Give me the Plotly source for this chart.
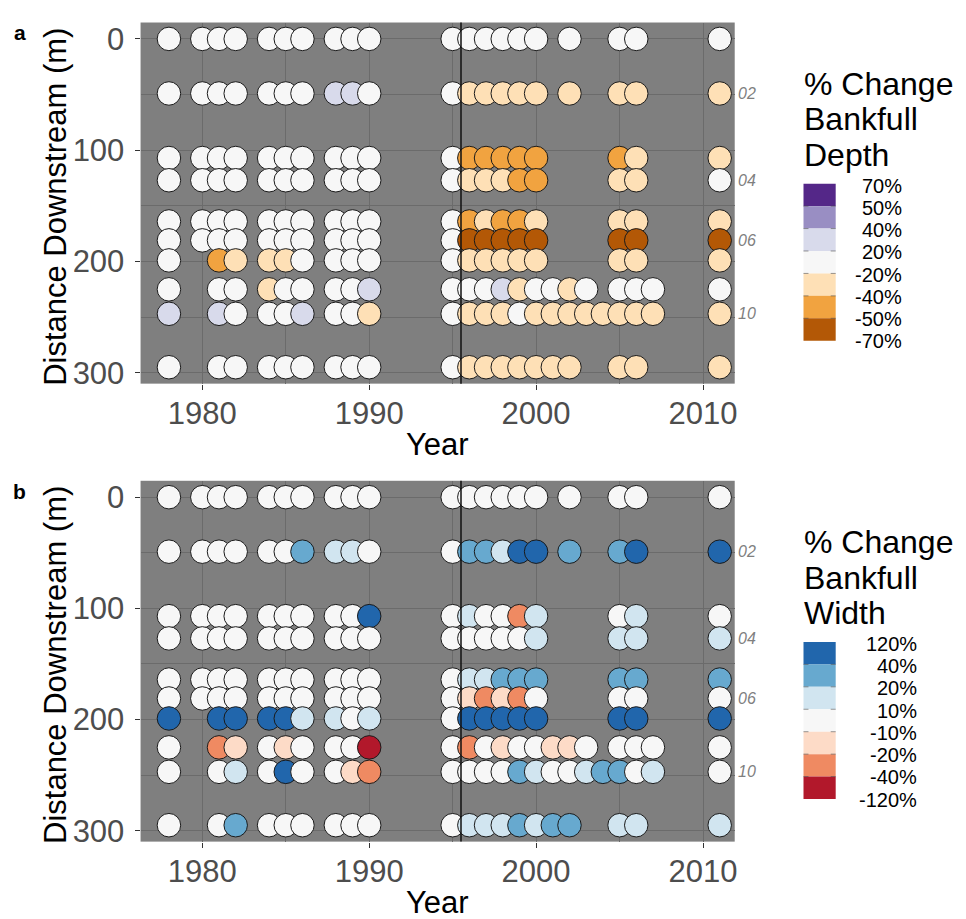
import plotly.graph_objects as go

# ---------------- data ----------------
years = [1978, 1980, 1981, 1982, 1984, 1985, 1986, 1988, 1989, 1990,
         1995, 1996, 1997, 1998, 1999, 2000, 2001, 2002, 2003, 2004,
         2005, 2006, 2007, 2011]
distances = [0, 49, 107, 127, 164, 181, 199, 225, 247, 295]
section_labels = ["02", "04", "06", "10"]
section_dist = [49, 127, 181, 247]
x_ticks = [1980, 1990, 2000, 2010]
y_ticks = [0, 100, 200, 300]
treatment_year = 1995.5

N = None
# % change in bankfull depth (columns follow `years`, rows follow `distances`)
depth_rows = [
    [0, 0, 0, 0, 0, 0, 0, 0, 0, 0, 0, 0, 0, 0, 0, 0, N, 0, N, N, 0, 0, N, 0],
    [0, 0, 0, 0, 0, 0, 0, 30, 30, 0, 0, -30, -30, -30, -30, -30, N, -30, N, N, -30, -30, N, -30],
    [0, 0, 0, 0, 0, 0, 0, 0, 0, 0, 0, -45, -45, -45, -45, -45, N, N, N, N, -45, -30, N, -30],
    [0, 0, 0, 0, 0, 0, 0, 0, 0, 0, 0, -30, -30, -30, -45, -45, N, N, N, N, -30, -30, N, 0],
    [0, 0, 0, 0, 0, 0, 0, 0, 0, 0, 0, -45, -30, -45, -45, -30, N, N, N, N, -30, -30, N, -30],
    [0, 0, 0, 0, 0, 0, 0, 0, 0, 0, 0, -60, -60, -60, -60, -60, N, N, N, N, -60, -60, N, -60],
    [0, N, -45, -30, -30, -30, 0, 0, 0, 0, 0, -30, -30, -30, -30, -30, N, N, N, N, -30, -30, N, -30],
    [0, N, 0, 0, -30, 0, 0, 0, 0, 30, 0, 0, 0, 30, -30, 0, 0, -30, 0, N, 0, 0, 0, 0],
    [30, N, 30, 0, 0, 0, 30, 0, 0, -30, 0, -30, -30, -30, 0, -30, -30, -30, -30, -30, -30, -30, -30, -30],
    [0, N, 0, 0, 0, 0, 0, 0, 0, 0, 0, -30, -30, -30, -30, -30, -30, -30, N, N, -30, -30, N, -30],
]
# % change in bankfull width
width_rows = [
    [0, 0, 0, 0, 0, 0, 0, 0, 0, 0, 0, 0, 0, 0, 0, 0, N, 0, N, N, 0, 0, N, 0],
    [0, 0, 0, 0, 0, 0, 30, 15, 15, 0, 0, 30, 30, 15, 60, 60, N, 30, N, N, 30, 60, N, 60],
    [0, 0, 0, 0, 0, 0, 0, 0, 0, 60, 0, 15, 0, 0, -30, 15, N, N, N, N, 0, 15, N, 0],
    [0, 0, 0, 0, 0, 0, 0, 0, 0, 0, 0, 0, 0, 0, 0, 15, N, N, N, N, 15, 15, N, 15],
    [0, 0, 0, 0, 0, 0, 0, 0, 0, 0, 0, 15, 15, 30, 30, 30, N, N, N, N, 30, 30, N, 30],
    [0, 0, 0, 0, 0, 0, 0, 0, 0, 0, 0, -15, -30, -15, -30, 0, N, N, N, N, 0, 0, N, 0],
    [60, N, 60, 60, 60, 60, 15, 15, 0, 15, 0, 60, 60, 60, 60, 60, N, N, N, N, 60, 60, N, 60],
    [0, N, -30, -15, 0, -15, 0, 0, 0, -60, 0, -30, 0, -15, 0, 0, -15, -15, 0, N, 0, 0, 0, 0],
    [0, N, 0, 15, 0, 60, 0, 0, -15, -30, 0, 0, 0, 0, 30, 15, 0, 0, 15, 30, 30, 0, 15, 0],
    [0, N, 0, 30, 0, 0, 0, 0, 0, 0, 0, 15, 15, 15, 30, 15, 30, 30, N, N, 15, 15, N, 15],
]

depth_edges = [-70, -50, -40, -20, 20, 40, 50, 70]
depth_colors = ["#b35806", "#f1a340", "#fee0b6", "#f7f7f7", "#d8daeb", "#998ec3", "#542788"]
width_edges = [-120, -40, -20, -10, 10, 20, 40, 120]
width_colors = ["#b2182b", "#ef8a62", "#fddbc7", "#f7f7f7", "#d1e5f0", "#67a9cf", "#2166ac"]

depth_title = ["% Change", "Bankfull", "Depth"]
width_title = ["% Change", "Bankfull", "Width"]

# ---------------- layout helpers ----------------
W, H = 966, 919
FONT = "Liberation Sans, Arial, sans-serif"


def px(x):
    return x / W


def py(y):
    return 1 - y / H


PLOT_L, PLOT_R = 141, 737
panels = [
    dict(top=21.7, bottom=386, tag="a", rows=depth_rows, edges=depth_edges,
         colors=depth_colors, title=depth_title, lab_right=907.3, xa="x", ya="y"),
    dict(top=484, bottom=848, tag="b", rows=width_rows, edges=width_edges,
         colors=width_colors, title=width_title, lab_right=921.5, xa="x2", ya="y2"),
]


def discrete_scale(edges, colors):
    lo, hi = edges[0], edges[-1]
    cs = []
    for i, c in enumerate(colors):
        cs.append([(edges[i] - lo) / (hi - lo), c])
        cs.append([(edges[i + 1] - lo) / (hi - lo), c])
    return cs


fig = go.Figure()
shapes = []
annotations = []

axis_common = dict(
    ticks="outside", ticklen=5, tickwidth=1, tickcolor="#333333",
    tickfont=dict(family=FONT, size=31, color="#4d4d4d"),
    showgrid=True, gridcolor="#6b6b6b", gridwidth=1,
    zeroline=False, showline=False, fixedrange=True,
)

for k, p in enumerate(panels):
    xs, ys, vs = [], [], []
    for d, row in zip(distances, p["rows"]):
        for yr, v in zip(years, row):
            if v is not None:
                xs.append(yr)
                ys.append(d)
                vs.append(v)
    fig.add_trace(go.Scatter(
        x=xs, y=ys, mode="markers", xaxis=p["xa"], yaxis=p["ya"],
        showlegend=False, hoverinfo="skip",
        marker=dict(size=23.5, color=vs, colorscale=discrete_scale(p["edges"], p["colors"]),
                    cmin=p["edges"][0], cmax=p["edges"][-1], showscale=False,
                    line=dict(color="#1a1a1a", width=1)),
    ))

    suffix = "" if k == 0 else "2"
    fig.update_layout(**{
        "xaxis" + suffix: dict(
            axis_common, domain=[px(PLOT_L), px(PLOT_R)], range=[1976.3, 2011.9],
            tickvals=x_ticks, anchor="y" + suffix, ticklabelstandoff=-3,
            minor=dict(dtick=5, tick0=1975, showgrid=True, gridcolor="#6b6b6b", gridwidth=0.5),
        ),
        "yaxis" + suffix: dict(
            axis_common, domain=[py(p["bottom"]), py(p["top"])], range=[309.75, -14.75],
            tickvals=y_ticks, anchor="x" + suffix, ticklabelstandoff=4,
            minor=dict(dtick=50, tick0=0, showgrid=True, gridcolor="#6b6b6b", gridwidth=0.5),
        ),
    })

    # treatment line
    shapes.append(dict(type="line", xref=p["xa"], yref=p["ya"] + " domain",
                       x0=treatment_year, x1=treatment_year, y0=0, y1=1,
                       line=dict(color="#111111", width=1.5), layer="above"))

    # panel tag
    annotations.append(dict(text="<b>%s</b>" % p["tag"], xref="paper", yref="paper",
                            x=px(20), y=py(p["top"] + 10.5), showarrow=False,
                            xanchor="center", yanchor="middle",
                            font=dict(family=FONT, size=21, color="black")))
    # axis titles
    annotations.append(dict(text="Distance Downstream (m)", xref="paper", yref="paper",
                            x=px(55), y=py((p["top"] + p["bottom"]) / 2 + 4), textangle=-90,
                            showarrow=False, xanchor="center", yanchor="middle",
                            font=dict(family=FONT, size=31, color="black")))
    annotations.append(dict(text="Year", xref="paper", yref="paper",
                            x=px((PLOT_L + PLOT_R) / 2), y=py(p["bottom"] + 61),
                            showarrow=False, xanchor="center", yanchor="middle",
                            font=dict(family=FONT, size=31, color="black")))
    # section labels on the right
    for lab, d in zip(section_labels, section_dist):
        annotations.append(dict(text=lab, xref="paper", yref=p["ya"], x=px(738), y=d,
                                showarrow=False, xanchor="left", yanchor="middle",
                                font=dict(family=FONT, size=16, color="#7f7f7f", style="italic")))

    # legend title
    for i, line in enumerate(p["title"]):
        annotations.append(dict(text=line, xref="paper", yref="paper",
                                x=px(804), y=py(p["top"] + 61.6 + 36 * i),
                                showarrow=False, xanchor="left", yanchor="middle",
                                font=dict(family=FONT, size=32, color="black")))
    # legend steps
    box_top = p["top"] + 162.6
    bin_h = 22.63
    nb = len(p["colors"])
    for i in range(nb):
        c = p["colors"][nb - 1 - i]
        y0 = box_top + i * bin_h
        shapes.append(dict(type="rect", xref="paper", yref="paper",
                           x0=px(806), x1=px(838.3), y0=py(y0), y1=py(y0 + bin_h),
                           fillcolor=c, line=dict(width=0), layer="above"))
    for i in range(1, nb):
        yb = box_top + i * bin_h
        for xa0, xa1 in ((806, 811), (833.3, 838.3)):
            shapes.append(dict(type="line", xref="paper", yref="paper",
                               x0=px(xa0), x1=px(xa1), y0=py(yb), y1=py(yb),
                               line=dict(color="rgba(70,70,70,0.55)", width=1), layer="above"))
    edges_desc = list(reversed(p["edges"]))
    for i, e in enumerate(edges_desc):
        annotations.append(dict(text="%d%%" % e, xref="paper", yref="paper",
                                x=px(p["lab_right"]), y=py(box_top + 2 + i * 22.45),
                                showarrow=False, xanchor="right", yanchor="middle",
                                font=dict(family=FONT, size=20, color="black")))

fig.update_layout(
    width=W, height=H, margin=dict(l=0, r=0, t=0, b=0),
    paper_bgcolor="white", plot_bgcolor="#7f7f7f",
    font=dict(family=FONT), shapes=shapes, annotations=annotations,
)

fig.write_html("out.html", config={"displayModeBar": False},
               post_script="document.body.style.margin='0';document.body.style.overflow='hidden';")
